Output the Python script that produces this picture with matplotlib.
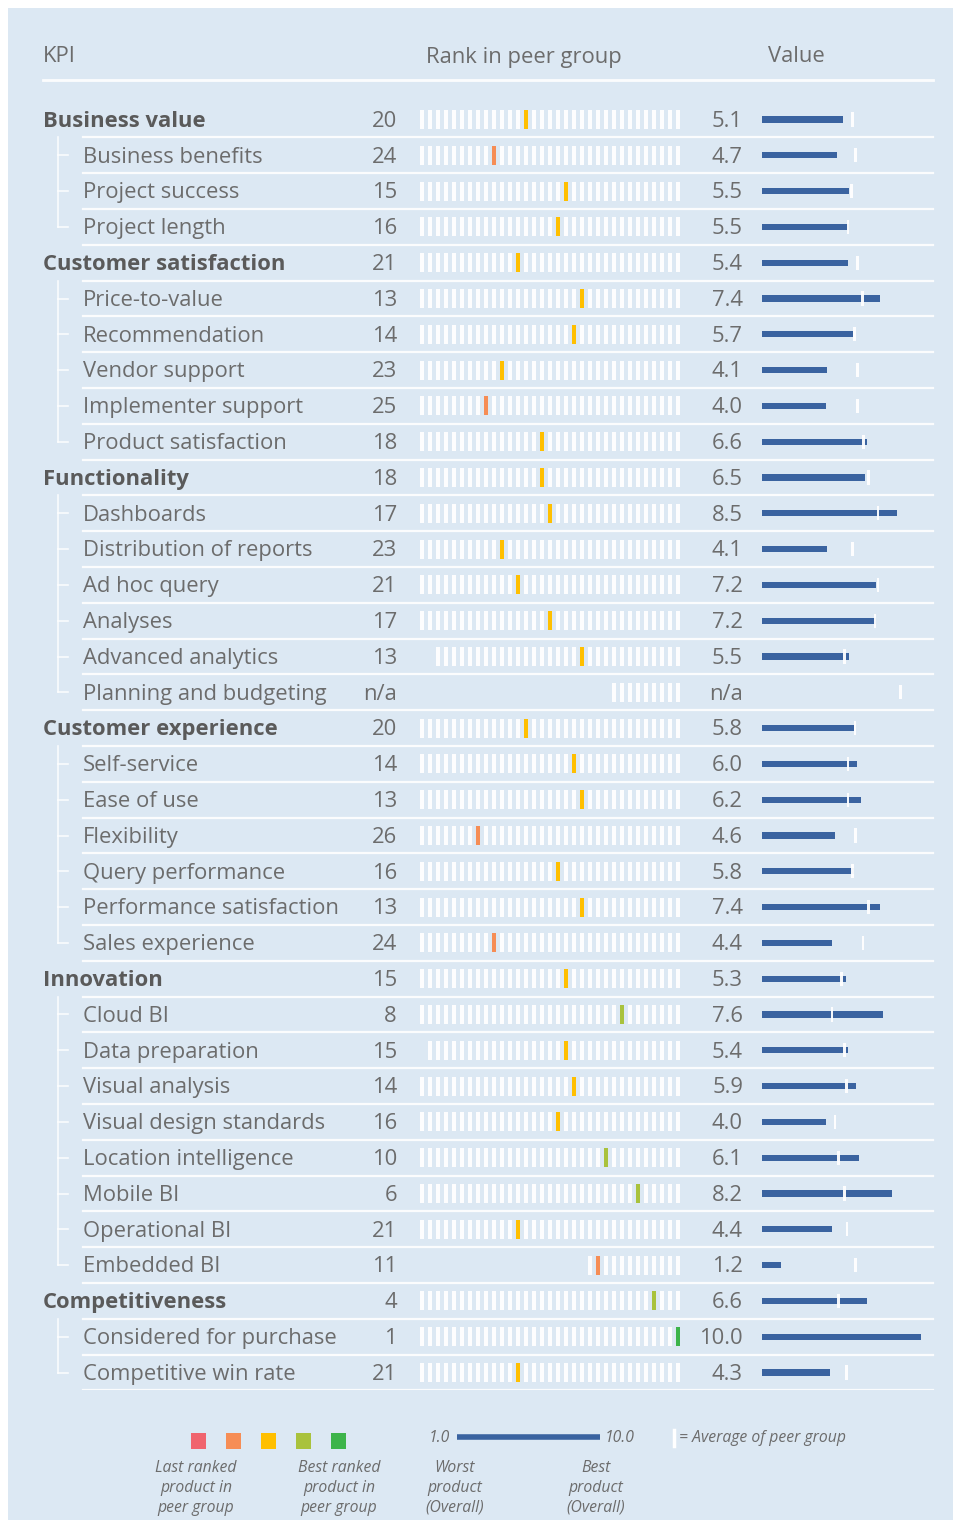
import numpy as np
import matplotlib
matplotlib.use("Agg")
import matplotlib.pyplot as plt
from matplotlib.patches import Rectangle

# ---------------- data ----------------
labels = ["Business value", "Business benefits", "Project success", "Project length",
          "Customer satisfaction", "Price-to-value", "Recommendation", "Vendor support",
          "Implementer support", "Product satisfaction",
          "Functionality", "Dashboards", "Distribution of reports", "Ad hoc query",
          "Analyses", "Advanced analytics", "Planning and budgeting",
          "Customer experience", "Self-service", "Ease of use", "Flexibility",
          "Query performance", "Performance satisfaction", "Sales experience",
          "Innovation", "Cloud BI", "Data preparation", "Visual analysis",
          "Visual design standards", "Location intelligence", "Mobile BI",
          "Operational BI", "Embedded BI",
          "Competitiveness", "Considered for purchase", "Competitive win rate"]
is_category = [1, 0, 0, 0,
               1, 0, 0, 0, 0, 0,
               1, 0, 0, 0, 0, 0, 0,
               1, 0, 0, 0, 0, 0, 0,
               1, 0, 0, 0, 0, 0, 0, 0, 0,
               1, 0, 0]
ranks = [20, 24, 15, 16,
         21, 13, 14, 23, 25, 18,
         18, 17, 23, 21, 17, 13, None,
         20, 14, 13, 26, 16, 13, 24,
         15, 8, 15, 14, 16, 10, 6, 21, 11,
         4, 1, 21]
peer_sizes = [33, 33, 33, 33,
              33, 33, 33, 33, 33, 33,
              33, 33, 33, 33, 33, 31, 9,
              33, 33, 33, 33, 33, 33, 33,
              33, 33, 32, 33, 33, 33, 33, 33, 12,
              33, 33, 33]
rank_colors = ["amber", "orange", "amber", "amber",
               "amber", "amber", "amber", "amber", "orange", "amber",
               "amber", "amber", "amber", "amber", "amber", "amber", None,
               "amber", "amber", "amber", "orange", "amber", "amber", "orange",
               "amber", "yellowgreen", "amber", "amber", "amber", "yellowgreen",
               "yellowgreen", "amber", "orange",
               "yellowgreen", "green", "amber"]
values = [5.1, 4.7, 5.5, 5.5,
          5.4, 7.4, 5.7, 4.1, 4.0, 6.6,
          6.5, 8.5, 4.1, 7.2, 7.2, 5.5, None,
          5.8, 6.0, 6.2, 4.6, 5.8, 7.4, 4.4,
          5.3, 7.6, 5.4, 5.9, 4.0, 6.1, 8.2, 4.4, 1.2,
          6.6, 10.0, 4.3]
peer_avg = [5.7, 5.9, 5.65, 5.4,
            6.0, 6.3, 5.8, 6.0, 6.0, 6.4,
            6.7, 7.3, 5.7, 7.3, 7.1, 5.2, 8.7,
            5.85, 5.4, 5.4, 5.9, 5.7, 6.7, 6.35,
            5.0, 4.4, 5.2, 5.3, 4.6, 4.8, 5.2, 5.35, 5.9,
            4.8, None, 5.3]
legend_colors = ["red", "orange", "amber", "yellowgreen", "green"]

palette = {"red": "#f0646e", "orange": "#f68d55", "amber": "#ffbf00",
           "yellowgreen": "#a9c23c", "green": "#3db44a"}

# ---------------- style ----------------
W, H = 954, 1520
BG = "#dce8f3"
TXT = "#6c6c6c"
TXT_B = "#5a5a5a"
BAR = "#3a63a0"
FONT = ["Open Sans", "DejaVu Sans"]
plt.rcParams['font.family'] = FONT
FS = 15.8
TY = 0.05  # small downward nudge for row text

n = len(labels)
y0_px, dy_px = 119.5, 35.8
top_px = y0_px - dy_px / 2
bot_px = y0_px + dy_px * (n - 0.5)


def fig_rect(x0, x1):
    return [x0 / W, 1 - bot_px / H, (x1 - x0) / W, (bot_px - top_px) / H]


fig = plt.figure(figsize=(W / 100, H / 100), dpi=100, facecolor="white")

# background panel
bg = fig.add_axes([0, 0, 1, 1])
bg.set_xlim(0, W); bg.set_ylim(H, 0); bg.axis("off")
bg.add_patch(Rectangle((8, 8), W - 8, H - 8, facecolor=BG, edgecolor="none"))
bg.text(43, 57, "KPI", fontsize=FS, color=TXT, va="center", ha="left")
bg.text(524, 57, "Rank in peer group", fontsize=FS, color=TXT, va="center", ha="center")
bg.text(796, 57, "Value", fontsize=FS, color=TXT, va="center", ha="center")
bg.plot([43, 933], [80, 80], color="white", lw=2, alpha=0.9)

# label axes (x in pixels, y in row index)
lab = fig.add_axes(fig_rect(0, W))
lab.set_xlim(0, W); lab.set_ylim(n - 0.5, -0.5); lab.axis("off")
rows = np.arange(n)
for i in rows:
    cat = is_category[i]
    lab.text(43 if cat else 83, i + TY, labels[i], fontsize=FS, va="center", ha="left",
             color=TXT_B if cat else TXT, fontweight="bold" if cat else "normal")
    lab.text(397, i + TY, "n/a" if ranks[i] is None else str(ranks[i]), fontsize=FS,
             va="center", ha="right", color=TXT)
    lab.text(743, i + TY, "n/a" if values[i] is None else f"{values[i]:.1f}", fontsize=FS,
             va="center", ha="right", color=TXT)
    lab.plot([83, 933], [i + 0.5, i + 0.5], color="white", lw=1.6, alpha=0.9)

# tree lines
cat_idx = [i for i in rows if is_category[i]] + [n]
for a, b in zip(cat_idx[:-1], cat_idx[1:]):
    subs = list(range(a + 1, b))
    if not subs:
        continue
    lab.plot([58, 58], [a + 0.5, subs[-1]], color="white", lw=1.2, alpha=0.85)
    for s in subs:
        lab.plot([58, 68], [s, s], color="white", lw=1.2, alpha=0.85)

# rank strips (8 px per rank, rank 1 at x=678)
rk = fig.add_axes(fig_rect(410, 690))
rk.set_xlim(34.5, -0.5); rk.set_ylim(n - 0.5, -0.5); rk.axis("off")
for i in rows:
    pos = np.arange(1, peer_sizes[i] + 1)
    rk.bar(pos, 0.53, bottom=i - 0.265, width=0.45, color="white", alpha=0.95,
           edgecolor="none")
    if ranks[i] is not None:
        rk.bar([ranks[i]], 0.53, bottom=i - 0.265, width=0.62,
               color=palette[rank_colors[i]], edgecolor="none")

# value bars
vx0, vx1 = 762, 940
va_ = fig.add_axes(fig_rect(vx0, vx1))
va_.set_xlim(0, (vx1 - vx0) / 15.9); va_.set_ylim(n - 0.5, -0.5); va_.axis("off")
for i in rows:
    if values[i] is not None:
        va_.barh(i, values[i], height=0.17, color=BAR, edgecolor="none")
    if peer_avg[i] is not None:
        va_.barh(i, 0.17, left=peer_avg[i] - 0.085, height=0.40, color="white",
                 edgecolor="none", alpha=0.95)

# legend
lg = fig.add_axes([0, 0, 1, 1])
lg.set_xlim(0, W); lg.set_ylim(H, 0); lg.axis("off")
for k, c in enumerate(legend_colors):
    cx = 199 + 35 * k
    lg.add_patch(Rectangle((cx - 7.5, 1433), 15, 16, facecolor=palette[c], edgecolor="none"))
lfs = 11.3
lg.text(196, 1488, "Last ranked\nproduct in\npeer group", fontsize=lfs, style="italic",
        color=TXT, ha="center", va="center", linespacing=1.3)
lg.text(339, 1488, "Best ranked\nproduct in\npeer group", fontsize=lfs, style="italic",
        color=TXT, ha="center", va="center", linespacing=1.3)
lg.text(455, 1488, "Worst\nproduct\n(Overall)", fontsize=lfs, style="italic",
        color=TXT, ha="center", va="center", linespacing=1.3)
lg.text(596, 1488, "Best\nproduct\n(Overall)", fontsize=lfs, style="italic",
        color=TXT, ha="center", va="center", linespacing=1.3)
lg.text(450, 1438, "1.0", fontsize=lfs, style="italic", color=TXT, ha="right", va="center")
lg.plot([457, 600], [1437, 1437], color=BAR, lw=4, solid_capstyle="butt")
lg.text(605, 1438, "10.0", fontsize=lfs, style="italic", color=TXT, ha="left", va="center")
lg.plot([674, 674], [1430, 1446], color="white", lw=2.5)
lg.text(679, 1438, "= Average of peer group", fontsize=lfs, style="italic", color=TXT,
        ha="left", va="center")

fig.savefig("out.png", dpi=100, facecolor="white")
